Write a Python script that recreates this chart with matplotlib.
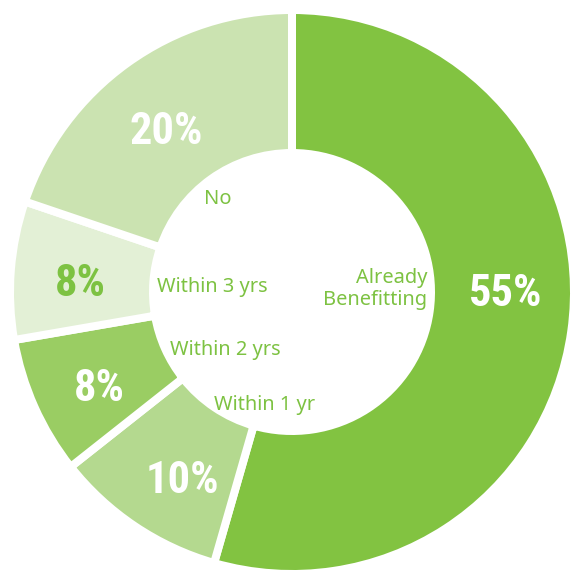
import matplotlib.pyplot as plt

# slices, clockwise from 12 o'clock
categories = ['Already\nBenefitting', 'Within 1 yr', 'Within 2 yrs', 'Within 3 yrs', 'No']
values = [55, 10, 8, 8, 20]
pct_labels = ['55%', '10%', '8%', '8%', '20%']

colors = ['#82c341', '#b4d98f', '#9acd63', '#e3f0d6', '#cbe3b1']
pct_colors = ['white', 'white', 'white', '#7dc242', 'white']
label_green = '#7dc242'

# layout in pixel coordinates (y grows downward)
W, H = 580, 570
center = (292, 292)
r_out = 278
r_in = 143
gap_px = 8

pct_pos = [(506, 294), (182, 481), (99, 389), (80, 284), (166, 132)]
cat_pos = [(427, 289, 'right'), (214, 405, 'left'), (170, 350, 'left'),
           (157, 287, 'left'), (218, 199, 'center')]

fig = plt.figure(figsize=(W / 100, H / 100), dpi=100)
ax = fig.add_axes([0, 0, 1, 1])

lw = gap_px * 72 / 100
half = gap_px / 2
# y axis is flipped below, so counter-clockwise in data = clockwise on screen
wedges, _ = ax.pie(values, colors=colors, startangle=-90, counterclock=True,
                   center=center, radius=r_out + half,
                   wedgeprops=dict(width=(r_out + half) - (r_in - half),
                                   edgecolor='white', linewidth=lw))

ax.set_xlim(0, W)
ax.set_ylim(H, 0)
ax.set_aspect('equal')
ax.axis('off')

pct_font = ['Roboto Condensed', 'Liberation Sans Narrow', 'Roboto', 'DejaVu Sans']
for txt, (x, y), c in zip(pct_labels, pct_pos, pct_colors):
    ax.text(x, y, txt, ha='center', va='center', color=c, fontsize=32,
            fontweight='bold', family=pct_font)

for txt, (x, y, ha) in zip(categories, cat_pos):
    ax.text(x, y, txt, ha=ha, va='center', color=label_green, fontsize=14.4,
            family=['Noto Sans', 'DejaVu Sans'], linespacing=1.2,
            multialignment='right')

fig.savefig('out.png', dpi=100)
